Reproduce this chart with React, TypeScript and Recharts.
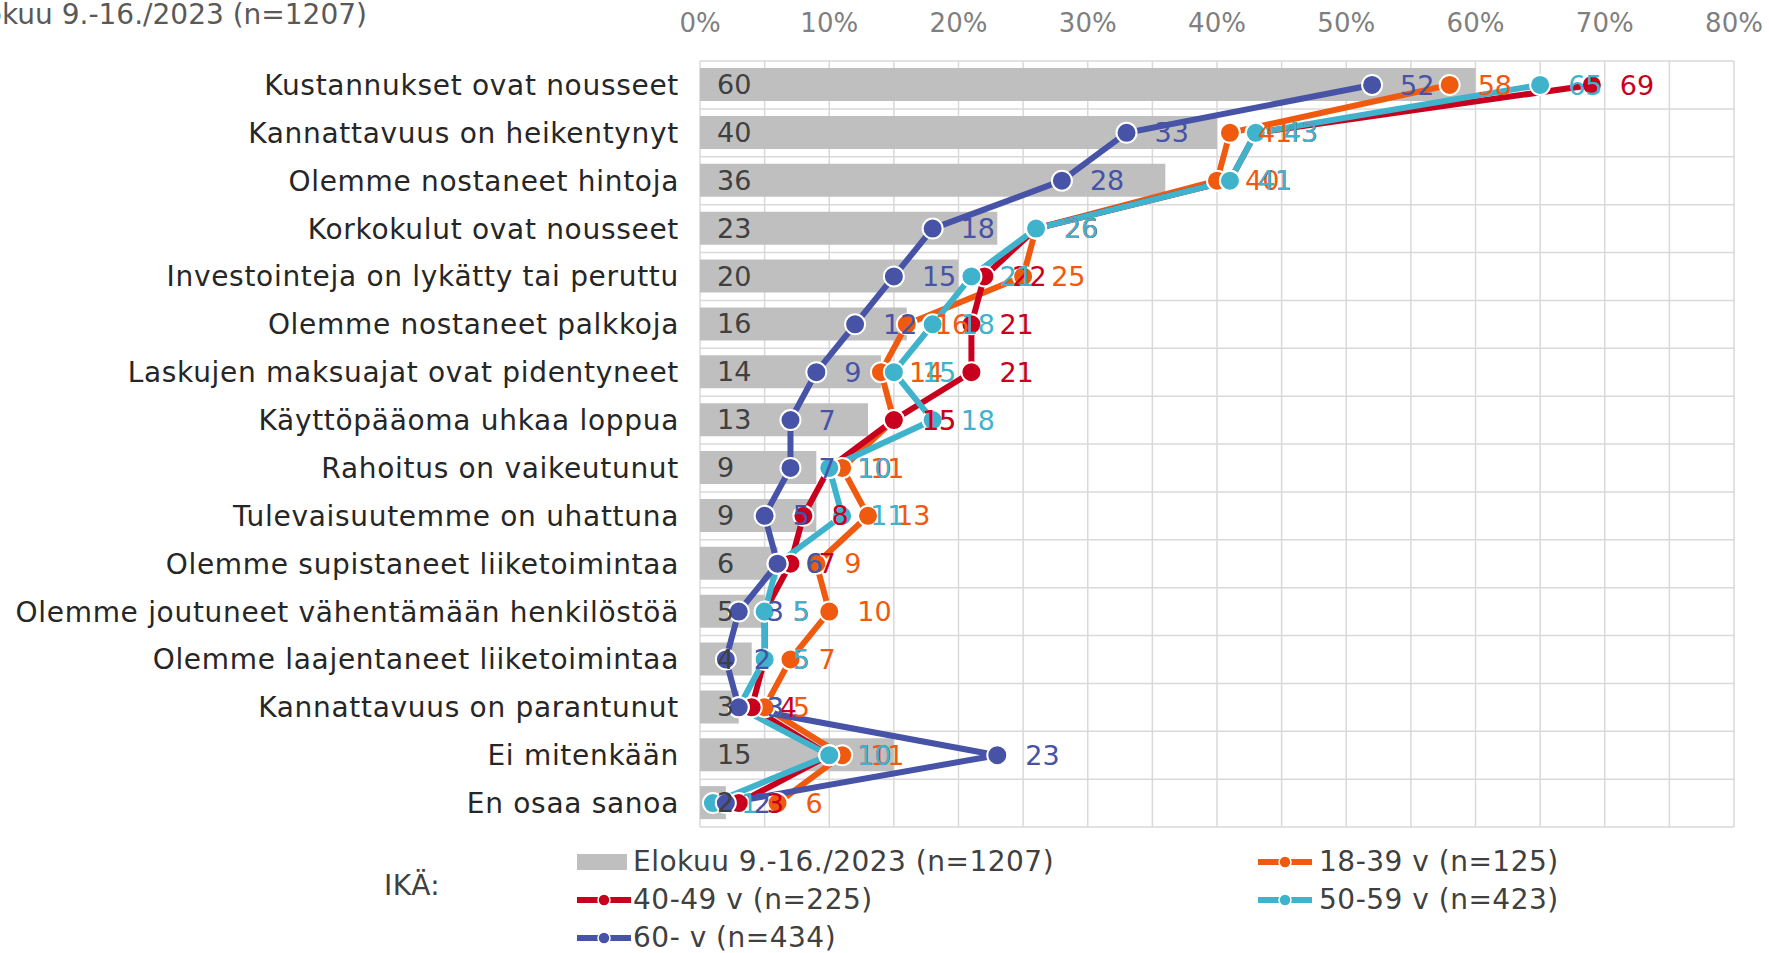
import React from 'react'
import { ComposedChart, Bar, Line, XAxis, YAxis, CartesianGrid, LabelList, Legend } from 'recharts'

const categories = [
  'Kustannukset ovat nousseet',
  'Kannattavuus on heikentynyt',
  'Olemme nostaneet hintoja',
  'Korkokulut ovat nousseet',
  'Investointeja on lykätty tai peruttu',
  'Olemme nostaneet palkkoja',
  'Laskujen maksuajat ovat pidentyneet',
  'Käyttöpääoma uhkaa loppua',
  'Rahoitus on vaikeutunut',
  'Tulevaisuutemme on uhattuna',
  'Olemme supistaneet liiketoimintaa',
  'Olemme joutuneet vähentämään henkilöstöä',
  'Olemme laajentaneet liiketoimintaa',
  'Kannattavuus on parantunut',
  'Ei mitenkään',
  'En osaa sanoa',
]

const totalAll = [60, 40, 36, 23, 20, 16, 14, 13, 9, 9, 6, 5, 4, 3, 15, 2]
const age18to39 = [58, 41, 40, 26, 25, 16, 14, 15, 11, 13, 9, 10, 7, 5, 11, 6]
const age40to49 = [69, 43, 41, 26, 22, 21, 21, 15, 10, 8, 7, 5, 5, 4, 10, 3]
const age50to59 = [65, 43, 41, 26, 21, 18, 15, 18, 10, 11, 6, 5, 5, 3, 10, 1]
const age60plus = [52, 33, 28, 18, 15, 12, 9, 7, 7, 5, 6, 3, 2, 3, 23, 2]

const axisTicks = [0, 10, 20, 30, 40, 50, 60, 70, 80]

const totalName = 'Elokuu 9.-16./2023 (n=1207)'

const series = [
  { key: 'a18', name: '18-39 v (n=125)', color: '#F05A0F', values: age18to39 },
  { key: 'a40', name: '40-49 v (n=225)', color: '#C8001E', values: age40to49 },
  { key: 'a50', name: '50-59 v (n=423)', color: '#3FB3CC', values: age50to59 },
  { key: 'a60', name: '60- v (n=434)', color: '#4653A6', values: age60plus },
]

const data = categories.map((name, i) => {
  const row: { [k: string]: string | number } = { name, total: totalAll[i] }
  series.forEach((s) => {
    row[s.key] = s.values[i]
  })
  return row
})

const FONT = '"DejaVu Sans", Verdana, sans-serif'
const W = 1769
const H = 953

// legend slots: [icon x, text x, row center y]
const legendSlots = [
  [577, 633, 862],
  [1258, 1319, 862],
  [577, 633, 900],
  [1258, 1319, 900],
  [577, 633, 938],
]
const LEGEND_TOP = 830

function LegendBox() {
  const items = [
    { name: totalName, color: '#BFBFBF', bar: true },
    ...series.map((s) => ({ name: s.name, color: s.color, bar: false })),
  ]
  return (
    <div
      style={{
        position: 'relative',
        width: W,
        height: 120,
        fontFamily: FONT,
        fontSize: 28,
        letterSpacing: 0.5,
        color: '#404040',
      }}
    >
      <div style={{ position: 'absolute', left: 384, top: 886 - LEGEND_TOP - 17, lineHeight: '34px' }}>IKÄ:</div>
      {items.map((it, i) => {
        const [ix, tx, cy] = legendSlots[i]
        const top = cy - LEGEND_TOP
        return (
          <React.Fragment key={it.name}>
            <svg style={{ position: 'absolute', left: ix, top: top - 10 }} width={54} height={20}>
              {it.bar ? (
                <rect x={0} y={2} width={50} height={16} fill={it.color} />
              ) : (
                <g>
                  <line x1={0} x2={54} y1={10} y2={10} stroke={it.color} strokeWidth={6} />
                  <circle cx={27} cy={10} r={6} fill={it.color} stroke="#fff" strokeWidth={1.5} />
                </g>
              )}
            </svg>
            <div style={{ position: 'absolute', left: tx, top: top - 17, lineHeight: '34px', whiteSpace: 'nowrap' }}>
              {it.name}
            </div>
          </React.Fragment>
        )
      })}
    </div>
  )
}

export default function App() {
  return (
    <div style={{ position: 'absolute', left: 0, top: 0, width: W, height: H, overflow: 'hidden', background: '#fff' }}>
      <div
        style={{
          position: 'absolute',
          right: W - 367,
          top: 0,
          lineHeight: '30px',
          whiteSpace: 'nowrap',
          fontFamily: FONT,
          fontSize: 28,
          color: '#595959',
        }}
      >
        {totalName}
      </div>
      <ComposedChart
        width={W}
        height={H}
        data={data}
        layout="vertical"
        margin={{ top: 0, right: 35, bottom: 126, left: 10 }}
      >
        <CartesianGrid
          stroke="#D9D9D9"
          strokeWidth={1.5}
          verticalCoordinatesGenerator={({ offset }: any) =>
            Array.from({ length: 17 }, (_, i) => offset.left + (i * offset.width) / 16)
          }
          horizontalCoordinatesGenerator={({ offset }: any) =>
            Array.from({ length: 17 }, (_, i) => offset.top + (i * offset.height) / 16)
          }
        />
        <XAxis
          type="number"
          orientation="top"
          domain={[0, 80]}
          ticks={axisTicks}
          tickFormatter={(v) => `${v}%`}
          axisLine={false}
          tickLine={false}
          tickSize={0}
          tickMargin={29}
          height={61}
          tick={{ fill: '#7F7F7F', fontSize: 26, fontFamily: FONT }}
        />
        <YAxis
          type="category"
          dataKey="name"
          width={690}
          axisLine={false}
          tickLine={false}
          tickSize={0}
          tickMargin={21}
          interval={0}
          tick={{ fill: '#262626', fontSize: 28, fontFamily: FONT, letterSpacing: 0.7 }}
        />
        <YAxis yAxisId="lbl" type="category" dataKey="name" hide />
        <Bar dataKey="total" name={totalName} fill="#BFBFBF" barSize={33} isAnimationActive={false} />
        {series.map((s) => (
          <Line
            key={s.key}
            dataKey={s.key}
            name={s.name}
            stroke={s.color}
            strokeWidth={6}
            dot={{ r: 10, fill: s.color, stroke: '#fff', strokeWidth: 2 }}
            activeDot={false}
            isAnimationActive={false}
          >
            <LabelList dataKey={s.key} position="right" offset={28} fill={s.color} fontSize={27} fontFamily={FONT} />
          </Line>
        ))}
        <Bar yAxisId="lbl" dataKey="total" fill="none" barSize={33} legendType="none" isAnimationActive={false}>
          <LabelList dataKey="total" position="insideLeft" offset={17} fill="#404040" fontSize={27} fontFamily={FONT} />
        </Bar>
        <Legend
          layout="horizontal"
          verticalAlign="middle"
          align="center"
          wrapperStyle={{ left: 0, top: LEGEND_TOP, width: W }}
          content={() => <LegendBox />}
        />
      </ComposedChart>
    </div>
  )
}
